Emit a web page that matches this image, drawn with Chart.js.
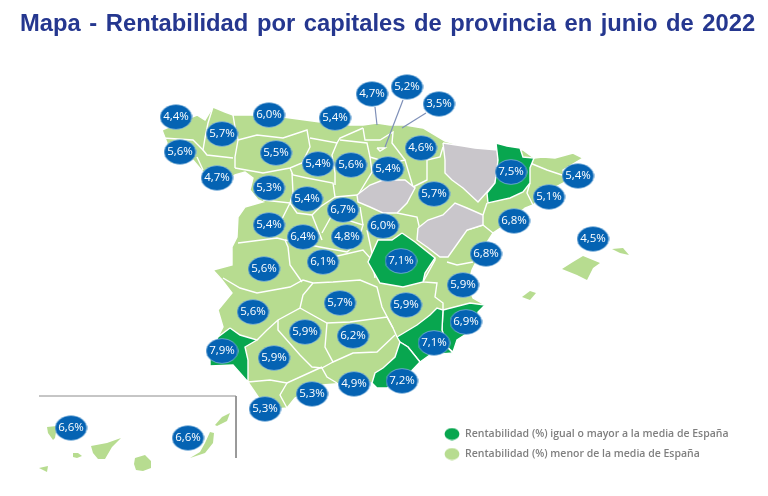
<!DOCTYPE html>
<html lang="es">
<head>
<meta charset="utf-8">
<title>Rentabilidad por capitales de provincia</title>
<script src="https://cdn.jsdelivr.net/npm/chart.js@4/dist/chart.umd.min.js"></script>
<style>
  html, body { margin: 0; padding: 0; background: #fff; }
  canvas { display: block; }
</style>
</head>
<body>
<canvas id="mapa" width="768" height="496"></canvas>
<script>
const titleText = 'Mapa - Rentabilidad por capitales de provincia en junio de 2022';
const legendLabels = ['Rentabilidad (%) igual o mayor a la media de España', 'Rentabilidad (%) menor de la media de España'];
const legendX = [452, 452];
const legendY = [434, 454];

// Rate per province and where its bubble sits on the map
const rates = [4.4, 5.7, 6.0, 5.4, 4.7, 5.2, 3.5, 5.6, 5.5, 5.4, 5.6, 5.4, 4.6, 4.7, 5.3, 5.4, 6.7, 5.7, 7.5, 5.4, 5.1, 6.8, 4.5, 5.4, 6.4, 4.8, 6.0, 6.1, 7.1, 6.8, 5.6, 5.9, 5.7, 5.9, 6.9, 5.6, 5.9, 6.2, 7.1, 7.9, 5.9, 4.9, 7.2, 5.3, 5.3, 6.6, 6.6];
const bubbleX = [176, 222, 269, 335, 372, 407, 439, 180, 276, 318, 351, 388, 421, 217, 269, 307, 343, 434, 511, 578, 549, 514, 593, 269, 303, 347, 383, 323, 401, 486, 264, 463, 340, 406, 466, 253, 305, 353, 434, 222, 274, 354, 402, 312, 265, 71, 188];
const bubbleY = [117, 134, 115, 118, 94, 87, 104, 152, 153, 164, 165, 169, 148, 178, 188, 199, 210, 194, 172, 176, 197, 221, 239, 225, 237, 237, 226, 262, 261, 254, 269, 285, 303, 305, 322, 312, 332, 336, 343, 351, 358, 384, 381, 394, 409, 428, 438];

// Map geometry, in the x/y units of the scales
const mainland = [[162,130],[167,143],[165,150],[170,163],[177,165],[193,160],[203,172],[215,190],[235,175],[245,172],[253,178],[250,190],[258,200],[263,202],[245,207],[238,217],[237,237],[232,247],[232,265],[213,270],[222,280],[232,293],[218,310],[223,327],[218,337],[210,353],[210,366],[233,365],[248,382],[267,410],[287,408],[295,398],[323,385],[347,383],[372,383],[377,388],[387,388],[403,380],[420,362],[430,355],[453,352],[457,340],[477,327],[478,312],[485,305],[473,298],[468,285],[472,270],[482,250],[493,233],[505,225],[525,208],[533,205],[550,190],[565,182],[563,170],[583,158],[573,153],[555,158],[543,157],[534,158],[523,150],[496,143],[498,150],[475,148],[463,146],[445,141],[423,128],[405,125],[390,125],[377,123],[363,125],[350,125],[320,122],[283,117],[257,115],[233,115],[225,112],[213,107],[205,120],[197,115],[180,122]];
const islands = [
  [[562,269],[573,262],[583,256],[600,263],[593,268],[587,280],[577,275]],
  [[612,249],[623,248],[629,255],[620,253]],
  [[522,297],[530,291],[536,293],[530,300]],
  [[47,427],[57,426],[55,438],[53,440],[48,433]],
  [[73,453],[78,453],[82,456],[77,458],[73,457]],
  [[91,446],[107,443],[121,438],[112,447],[105,459],[98,459],[93,453]],
  [[39,468],[48,466],[47,472],[43,470]],
  [[135,458],[145,455],[151,461],[151,468],[143,471],[136,470],[134,464]],
  [[210,432],[214,433],[213,443],[205,453],[190,458],[200,452],[205,443]],
  [[215,425],[222,417],[230,413],[227,421],[217,426]]
];
const greyAreas = [
  [[357,195],[370,185],[383,180],[405,180],[415,188],[407,203],[397,213],[383,213],[370,207],[358,202]],
  [[443,143],[463,146],[475,148],[498,150],[498,167],[495,183],[487,192],[478,202],[463,188],[452,180],[445,173],[445,160]],
  [[418,228],[428,220],[443,215],[455,203],[467,208],[483,215],[483,225],[467,230],[460,240],[448,257],[440,257],[427,247],[417,240]]
];
const aboveAverage = [
  [[496,143],[507,146],[520,148],[523,157],[534,158],[530,168],[530,183],[523,192],[510,198],[488,203],[487,193],[495,183],[498,160]],
  [[402,233],[415,242],[435,258],[425,273],[423,282],[403,287],[380,283],[368,262],[378,240],[392,240]],
  [[443,310],[470,303],[485,305],[478,312],[477,327],[457,340],[453,352],[447,347],[442,330]],
  [[397,337],[417,325],[430,315],[437,308],[443,310],[442,330],[447,347],[453,353],[430,355],[420,362],[408,347],[400,342]],
  [[400,342],[408,347],[420,362],[403,380],[387,388],[377,388],[372,383],[375,373],[383,368],[395,357]],
  [[230,328],[240,335],[257,340],[245,347],[248,360],[248,382],[233,365],[210,366],[210,353],[218,337]]
];
const borders = [
  [[213,107],[208,123],[205,138],[203,150],[207,155],[233,158]],
  [[233,115],[235,127],[238,140],[235,157],[235,168]],
  [[163,138],[193,140],[203,150]],
  [[197,157],[203,170]],
  [[238,140],[257,135],[283,138],[307,130],[310,147],[302,163],[290,168],[263,173],[235,168]],
  [[310,138],[337,143],[340,138],[363,128]],
  [[337,143],[332,155],[335,173],[335,185]],
  [[290,168],[293,175],[307,178],[333,183],[335,197],[320,207],[312,215]],
  [[292,173],[293,193],[290,203],[263,200]],
  [[290,203],[297,213],[312,215],[318,230],[322,240]],
  [[335,197],[357,195]],
  [[280,223],[290,203]],
  [[238,243],[277,238],[285,240],[288,247],[290,265],[302,282]],
  [[322,233],[332,215],[363,225],[358,242],[347,252],[320,247],[285,240]],
  [[360,207],[363,225]],
  [[397,213],[417,217],[420,230]],
  [[367,230],[372,253]],
  [[333,257],[363,250],[372,260],[375,278]],
  [[223,278],[240,288],[257,293],[290,287],[303,280],[313,283],[333,282],[360,280],[377,287],[382,307],[393,328],[397,337]],
  [[313,283],[303,295],[300,308],[278,320],[267,330],[257,340]],
  [[300,308],[327,323],[350,322],[387,317],[393,328]],
  [[278,320],[278,330],[300,355],[312,367],[322,368]],
  [[327,323],[325,347],[333,362],[353,353],[377,352],[395,335]],
  [[333,362],[322,368],[327,377],[337,383]],
  [[248,382],[270,380],[287,383],[322,367]],
  [[287,383],[280,395],[287,408]],
  [[435,258],[435,260],[423,282],[437,283],[435,297],[443,303],[443,310]],
  [[447,262],[457,265],[473,262]],
  [[467,230],[483,225],[493,233]],
  [[487,203],[483,215]],
  [[530,163],[547,170],[562,175]],
  [[530,183],[527,193],[533,205]],
  [[413,187],[427,180],[427,160],[440,157],[443,147]],
  [[415,188],[413,187],[405,160],[390,163],[370,157],[372,172],[358,195]],
  [[340,140],[367,143],[370,157]],
  [[363,128],[365,140],[380,140],[393,132],[392,143],[405,160]],
  [[377,148],[385,148],[380,151],[377,148]]
];
const leaderLines = [
  [[375,107],[377,125]],
  [[403,100],[385,147]],
  [[426,113],[402,128]]
];
const insetFrame = [[39,396],[236,396],[236,458]];

const toPoints = (pairs) => pairs.map(([x, y]) => ({ x, y }));

function polygon(pairs, color) {
  return {
    data: toPoints(pairs.concat([pairs[0]])),
    showLine: true,
    fill: 'shape',
    backgroundColor: color,
    borderColor: '#ffffff',
    borderWidth: 1.4,
    pointRadius: 0,
    tension: 0,
  };
}

function line(pairs, color, width) {
  return {
    data: toPoints(pairs),
    showLine: true,
    fill: false,
    borderColor: color,
    borderWidth: width,
    pointRadius: 0,
    tension: 0,
  };
}

// Ellipse sprite, the built in point styles only give circles
function ellipseSprite(w, h, fill, stroke) {
  const c = document.createElement('canvas');
  c.width = w;
  c.height = h;
  const g = c.getContext('2d');
  g.beginPath();
  g.ellipse(w / 2, h / 2, w / 2 - 0.6, h / 2 - 0.6, 0, 0, Math.PI * 2);
  g.fillStyle = fill;
  g.fill();
  if (stroke) {
    g.strokeStyle = stroke;
    g.lineWidth = 0.6;
    g.stroke();
  }
  return c;
}

const LIGHT = '#b7dc90';
const DARK = '#08a64f';
const GREY = '#c9c6cb';
const BLUE = '#0563b3';

const datasets = [];
datasets.push(polygon(mainland, LIGHT));
islands.forEach((p) => {
  const d = polygon(p, LIGHT);
  d.borderWidth = 0;
  datasets.push(d);
});
borders.forEach((p) => datasets.push(line(p, '#ffffff', 1.4)));
greyAreas.forEach((p) => datasets.push(polygon(p, GREY)));
aboveAverage.forEach((p) => datasets.push(polygon(p, DARK)));
leaderLines.forEach((p) => datasets.push(line(p, '#7f90b8', 1.2)));
datasets.push(line(insetFrame, '#8c8c8c', 1));
datasets.push({
  data: legendX.map((x, i) => ({ x, y: legendY[i] })),
  pointStyle: (ctx) => ellipseSprite(16, 13, ctx.dataIndex === 0 ? DARK : LIGHT),
  showLine: false,
});
datasets.push({
  data: bubbleX.map((x, i) => ({ x, y: bubbleY[i] })),
  pointStyle: ellipseSprite(33, 26, BLUE, '#a9cdea'),
  showLine: false,
});
datasets.forEach((d, i) => { d.order = datasets.length - i; });

// Title, bubble percentages and the legend captions
const mapLabels = {
  id: 'mapLabels',
  afterDatasetsDraw(chart) {
    const { ctx, scales } = chart;
    ctx.save();
    ctx.textBaseline = 'alphabetic';
    ctx.textAlign = 'left';
    ctx.fillStyle = '#25378f';
    ctx.font = 'bold 24.5px "Liberation Sans", Arial, sans-serif';
    ctx.wordSpacing = '2px';
    // title glyphs are a little squeezed in the original
    ctx.save();
    ctx.translate(20, 31);
    ctx.scale(0.97, 1);
    ctx.fillText(titleText, 0, 0);
    ctx.restore();
    ctx.wordSpacing = '0px';
    ctx.textBaseline = 'middle';
    ctx.textAlign = 'center';
    ctx.fillStyle = '#ffffff';
    ctx.font = '11.5px "Open Sans", sans-serif';
    rates.forEach((r, i) => {
      const txt = r.toFixed(1).replace('.', ',') + '%';
      ctx.fillText(txt, scales.x.getPixelForValue(bubbleX[i]), scales.y.getPixelForValue(bubbleY[i]));
    });
    ctx.textAlign = 'left';
    ctx.fillStyle = '#7f7f7f';
    ctx.font = '600 10.5px "Open Sans", sans-serif';
    legendLabels.forEach((txt, i) => {
      ctx.fillText(txt, scales.x.getPixelForValue(legendX[i] + 13), scales.y.getPixelForValue(legendY[i]));
    });
    ctx.restore();
  },
};

new Chart(document.getElementById('mapa'), {
  type: 'scatter',
  data: { datasets },
  options: {
    responsive: false,
    animation: false,
    layout: { padding: 0, autoPadding: false },
    scales: {
      x: { type: 'linear', min: 0, max: 768, display: false },
      y: { type: 'linear', min: 0, max: 496, reverse: true, display: false },
    },
    plugins: {
      legend: { display: false },
      tooltip: { enabled: false },
    },
  },
  plugins: [mapLabels],
});
</script>
</body>
</html>
